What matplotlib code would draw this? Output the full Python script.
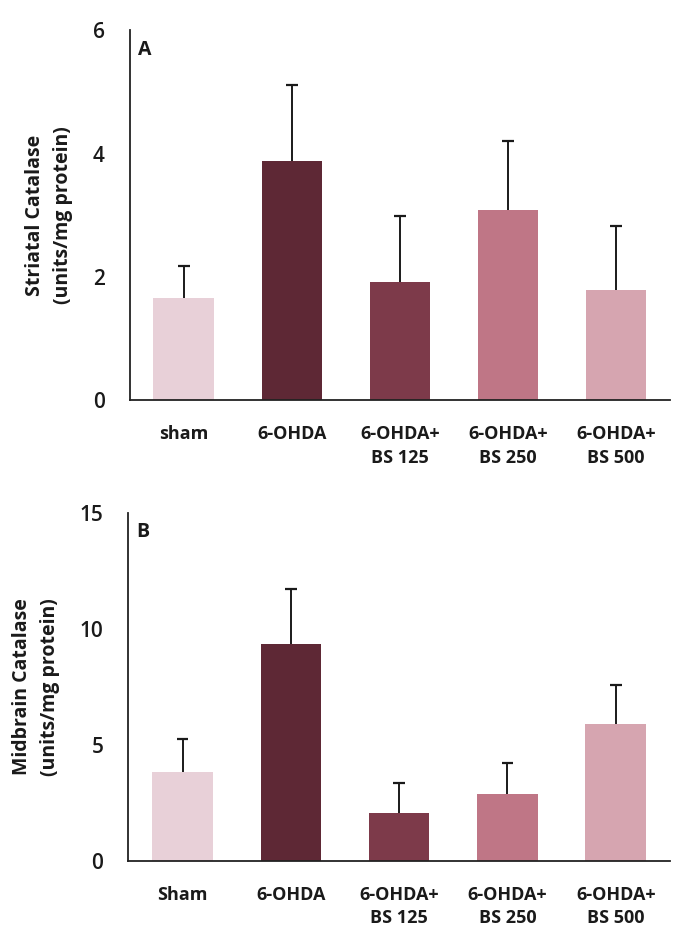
import matplotlib
matplotlib.use("Agg")
import matplotlib.pyplot as plt

groups_a = ["sham", "6-OHDA", "6-OHDA+\nBS 125", "6-OHDA+\nBS 250", "6-OHDA+\nBS 500"]
groups_b = ["Sham", "6-OHDA", "6-OHDA+\nBS 125", "6-OHDA+\nBS 250", "6-OHDA+\nBS 500"]
striatal_mean = [1.66, 3.88, 1.91, 3.08, 1.78]
striatal_err = [0.51, 1.24, 1.07, 1.13, 1.05]
midbrain_mean = [3.84, 9.35, 2.07, 2.89, 5.90]
midbrain_err = [1.42, 2.37, 1.29, 1.33, 1.69]
colors = ["#e8d0d8", "#5e2835", "#7d3a4a", "#bf7686", "#d6a5b0"]

plt.rcParams['font.family'] = ['Open Sans', 'DejaVu Sans']

fig = plt.figure(figsize=(6.9, 9.5), dpi=100)
axA = fig.add_axes([0.188, 0.579, 0.783, 0.389])
axB = fig.add_axes([0.186, 0.094, 0.785, 0.366])

def draw(ax, labels, mean, err, ymax, yticks, letter, ylabel):
    x = list(range(len(labels)))
    ax.bar(x, mean, width=0.56, color=colors, zorder=2)
    tops = [m + e for m, e in zip(mean, err)]
    ax.vlines(x, mean, tops, color='#1a1a1a', linewidth=1.4, zorder=3)
    ax.hlines(tops, [xi - 0.055 for xi in x], [xi + 0.055 for xi in x],
              color='#1a1a1a', linewidth=1.6, zorder=3)
    ax.set_xlim(-0.5, 4.5)
    ax.set_ylim(0, ymax)
    ax.set_yticks(yticks)
    ax.set_yticklabels([str(t) for t in yticks], fontsize=15, fontweight='semibold',
                       color='#1a1a1a')
    ax.set_xticks(x)
    ax.set_xticklabels(labels, fontsize=13, fontweight='bold', color='#1a1a1a',
                       linespacing=1.4, va='top')
    ax.tick_params(axis='both', length=0)
    ax.tick_params(axis='x', pad=18)
    ax.tick_params(axis='y', pad=18)
    for s in ['top', 'right']:
        ax.spines[s].set_visible(False)
    for s in ['left', 'bottom']:
        ax.spines[s].set_linewidth(1.3)
        ax.spines[s].set_color('#222222')
    ax.text(0.015, 0.975, letter, transform=ax.transAxes, fontsize=14,
            fontweight='bold', va='top', ha='left', color='#1a1a1a')
    ax.set_ylabel(ylabel, fontsize=14, fontweight='bold', color='#1a1a1a',
                  linespacing=1.55, labelpad=14)

draw(axA, groups_a, striatal_mean, striatal_err, 6, [0, 2, 4, 6], "A",
     "Striatal Catalase\n(units/mg protein)")
draw(axB, groups_b, midbrain_mean, midbrain_err, 15, [0, 5, 10, 15], "B",
     "Midbrain Catalase\n(units/mg protein)")

fig.savefig("out.png", dpi=100, facecolor='white')
